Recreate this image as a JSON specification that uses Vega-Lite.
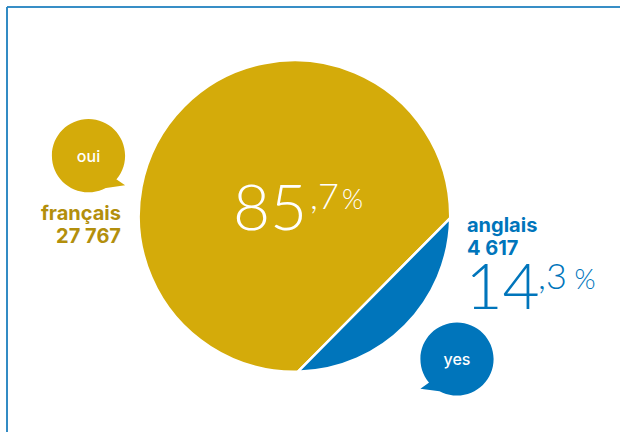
{
  "$schema": "https://vega.github.io/schema/vega-lite/v6.json",
  "width": 613,
  "height": 425,
  "padding": {"left": 7, "top": 7, "right": 0, "bottom": 0},
  "autosize": "none",
  "background": "white",
  "config": {"view": {"stroke": null}},
  "data": {"values": [
    {"langue": "français", "effectif": 27767, "part": 85.7, "entier": "85", "decimale": ",7", "bulle": "oui"},
    {"langue": "anglais", "effectif": 4617, "part": 14.3, "entier": "14", "decimale": ",3", "bulle": "yes"}
  ]},
  "transform": [
    {"calculate": "replace(format(datum.effectif, ','), ',', ' ')", "as": "effectif_texte"}
  ],
  "resolve": {"scale": {"x": "independent", "y": "independent", "shape": "independent", "size": "independent"}},
  "layer": [
    {"mark": {"type": "rule", "stroke": "#2b87c2", "strokeWidth": 1.6}, "encoding": {"x": {"value": 0}, "x2": {"value": 613}, "y": {"value": 0}}},
    {"mark": {"type": "rule", "stroke": "#2b87c2", "strokeWidth": 1.6}, "encoding": {"x": {"value": 0}, "y": {"value": 0}, "y2": {"value": 425}}},
    {
      "encoding": {
        "x": {"datum": "disque", "type": "nominal", "axis": null, "scale": {"type": "point", "padding": 0, "domain": ["disque"], "range": [287.5, 287.5]}},
        "y": {"datum": "disque", "type": "nominal", "axis": null, "scale": {"type": "point", "padding": 0, "domain": ["disque"], "range": [209, 209]}}
      },
      "layer": [
        {
          "mark": {"type": "point", "filled": true, "opacity": 1, "stroke": "white", "strokeWidth": 2.5},
          "encoding": {
            "size": {"field": "part", "type": "quantitative", "legend": null, "scale": {"type": "linear", "domain": [0, 100], "range": [0, 100000]}},
            "shape": {"field": "langue", "type": "nominal", "legend": null, "scale": {"domain": ["français", "anglais"], "range": [
              "M1.0638,0.0137A1.0641,1.0641,0,1,0,0.0239,1.0637Z",
              "M2.6041,0.0335A2.605,2.605,0,0,1,0.0585,2.6041Z"
            ]}},
            "color": {"field": "langue", "type": "nominal", "legend": null, "scale": {"domain": ["français", "anglais"], "range": ["#d4ab0a", "#0075bb"]}}
          }
        },
        {
          "transform": [{"filter": "datum.langue === 'français'"}],
          "mark": {"type": "text", "align": "left", "baseline": "alphabetic", "font": "Lato", "fontWeight": 300, "fontSize": 64, "color": "white", "dx": -61.5, "dy": 14},
          "encoding": {"text": {"field": "entier"}}
        },
        {
          "transform": [{"filter": "datum.langue === 'français'"}],
          "mark": {"type": "text", "align": "left", "baseline": "alphabetic", "font": "Lato", "fontWeight": 300, "fontSize": 36, "color": "white", "dx": 15.5, "dy": -7},
          "encoding": {"text": {"field": "decimale"}}
        },
        {
          "transform": [{"filter": "datum.langue === 'français'"}],
          "mark": {"type": "text", "text": "%", "align": "left", "baseline": "alphabetic", "font": "Lato", "fontWeight": 300, "fontSize": 27, "color": "white", "dx": 47.5, "dy": -7}
        }
      ]
    },
    {
      "encoding": {
        "x": {"field": "langue", "type": "nominal", "axis": null, "scale": {"type": "point", "padding": 0, "domain": ["français", "anglais"], "range": [81.5, 450]}},
        "y": {"field": "langue", "type": "nominal", "axis": null, "scale": {"type": "point", "padding": 0, "domain": ["français", "anglais"], "range": [148.7, 352]}}
      },
      "layer": [
        {
          "mark": {"type": "point", "filled": true, "opacity": 1, "size": 5358},
          "encoding": {
            "shape": {"field": "langue", "type": "nominal", "legend": null, "scale": {"domain": ["français", "anglais"], "range": [
              "M-1,0A1,1,0,1,1,1,0A1,1,0,1,1,-1,0ZM0.5,0.6L0.77,0.65L1,0.81L0.48,0.88Z",
              "M-1,0A1,1,0,1,1,1,0A1,1,0,1,1,-1,0ZM-0.5,0.6L-0.48,0.88L-1,0.81L-0.77,0.65Z"
            ]}},
            "color": {"field": "langue", "type": "nominal", "legend": null, "scale": {"domain": ["français", "anglais"], "range": ["#d4ab0a", "#0075bb"]}}
          }
        },
        {
          "mark": {"type": "text", "align": "center", "baseline": "middle", "font": "Inter", "fontWeight": 500, "fontSize": 16, "color": "white", "dy": 1},
          "encoding": {"text": {"field": "bulle"}}
        },
        {
          "transform": [{"filter": "datum.langue === 'français'"}],
          "mark": {"type": "text", "align": "right", "baseline": "alphabetic", "font": "Inter", "fontWeight": 700, "fontSize": 20, "color": "#b38f0c", "dx": 32.5, "dy": 64.5},
          "encoding": {"text": {"field": "langue"}}
        },
        {
          "transform": [{"filter": "datum.langue === 'français'"}],
          "mark": {"type": "text", "align": "right", "baseline": "alphabetic", "font": "Inter", "fontWeight": 700, "fontSize": 20, "color": "#b38f0c", "dx": 32.5, "dy": 87.6},
          "encoding": {"text": {"field": "effectif_texte"}}
        },
        {
          "transform": [{"filter": "datum.langue === 'anglais'"}],
          "mark": {"type": "text", "align": "left", "baseline": "alphabetic", "font": "Inter", "fontWeight": 700, "fontSize": 20, "color": "#0075bb", "dx": 10, "dy": -127},
          "encoding": {"text": {"field": "langue"}}
        },
        {
          "transform": [{"filter": "datum.langue === 'anglais'"}],
          "mark": {"type": "text", "align": "left", "baseline": "alphabetic", "font": "Inter", "fontWeight": 700, "fontSize": 20, "color": "#0075bb", "dx": 10, "dy": -104},
          "encoding": {"text": {"field": "effectif_texte"}}
        },
        {
          "transform": [{"filter": "datum.langue === 'anglais'"}],
          "mark": {"type": "text", "align": "left", "baseline": "alphabetic", "font": "Lato", "fontWeight": 300, "fontSize": 64, "color": "#0075bb", "dx": 8.5, "dy": -50},
          "encoding": {"text": {"field": "entier"}}
        },
        {
          "transform": [{"filter": "datum.langue === 'anglais'"}],
          "mark": {"type": "text", "align": "left", "baseline": "alphabetic", "font": "Lato", "fontWeight": 300, "fontSize": 36, "color": "#0075bb", "dx": 81, "dy": -70},
          "encoding": {"text": {"field": "decimale"}}
        },
        {
          "transform": [{"filter": "datum.langue === 'anglais'"}],
          "mark": {"type": "text", "text": "%", "align": "left", "baseline": "alphabetic", "font": "Lato", "fontWeight": 300, "fontSize": 27, "color": "#0075bb", "dx": 117.5, "dy": -70}
        }
      ]
    }
  ]
}
